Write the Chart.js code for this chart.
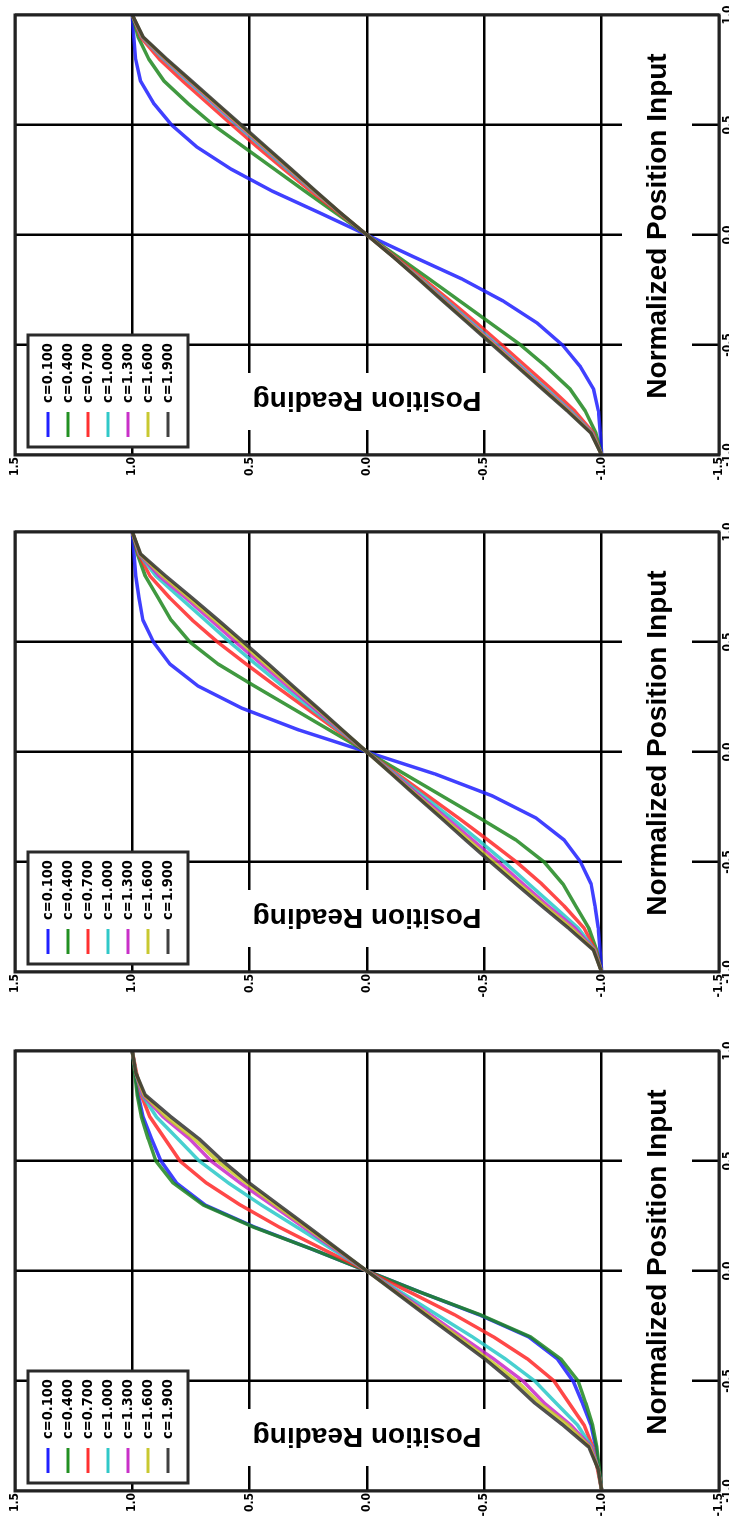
<!DOCTYPE html>
<html>
<head>
<meta charset="utf-8">
<script src="https://cdn.jsdelivr.net/npm/chart.js@4"></script>
<style>
    html, body { margin: 0; padding: 0; background: #fff; width: 729px; height: 1520px; overflow: hidden; }
    .panel { position: absolute; left: 0; top: 0; width: 480px; height: 745px; transform-origin: 0 0; }
</style>
</head>
<body>
<div class="panel" id="panel1"><canvas id="chart1" width="480" height="745"></canvas></div>
<div class="panel" id="panel2"><canvas id="chart2" width="480" height="745"></canvas></div>
<div class="panel" id="panel3"><canvas id="chart3" width="480" height="745"></canvas></div>
<script>
// normalized input, shared by all three plots
const xInput = [-1, -0.9, -0.8, -0.7, -0.6, -0.5, -0.4, -0.3, -0.2, -0.1, 0, 0.1, 0.2, 0.3, 0.4, 0.5, 0.6, 0.7, 0.8, 0.9, 1];

const legendLabels = ["c=0.100", "c=0.400", "c=0.700", "c=1.000", "c=1.300", "c=1.600", "c=1.900"];
const lineColors = ["rgba(30,30,255,0.85)", "rgba(30,135,30,0.85)", "rgba(255,40,40,0.85)", "rgba(40,200,200,0.85)",
                    "rgba(200,40,200,0.85)", "rgba(200,200,40,0.85)", "rgba(50,50,50,0.85)"];
const keyColors = ["#2020ff", "#229022", "#ff3030", "#30c8c8", "#c830c8", "#c8c830", "#404040"];

const xTitle = "Normalized Position Input";
const yTitle = "Position Reading";

// top plot
const p1_c0100 = [-1,-.994,-.986,-.965,-.91,-.833,-.725,-.58,-.405,-.2,0,.2,.405,.58,.725,.833,.91,.965,.986,.994,1];
const p1_c0400 = [-1,-.975,-.93,-.865,-.765,-.655,-.525,-.395,-.265,-.133,0,.133,.265,.395,.525,.655,.765,.865,.93,.975,1];
const p1_c0700 = [-1,-.965,-.885,-.785,-.68,-.575,-.467,-.355,-.24,-.12,0,.12,.24,.355,.467,.575,.68,.785,.885,.965,1];
const p1_c1000 = [-1,-.96,-.868,-.765,-.66,-.555,-.448,-.34,-.228,-.115,0,.115,.228,.34,.448,.555,.66,.765,.868,.96,1];
const p1_c1300 = [-1,-.958,-.862,-.758,-.653,-.548,-.44,-.333,-.224,-.114,0,.114,.224,.333,.44,.548,.653,.758,.862,.958,1];
const p1_c1600 = [-1,-.956,-.858,-.753,-.647,-.542,-.435,-.328,-.222,-.113,0,.113,.222,.328,.435,.542,.647,.753,.858,.956,1];
const p1_c1900 = [-1,-.954,-.854,-.748,-.642,-.536,-.43,-.324,-.219,-.112,0,.112,.219,.324,.43,.536,.642,.748,.854,.954,1];

// middle plot
const p2_c0100 = [-1,-.993,-.985,-.972,-.955,-.91,-.84,-.72,-.535,-.29,0,.29,.535,.72,.84,.91,.955,.972,.985,.993,1];
const p2_c0400 = [-1,-.978,-.945,-.89,-.835,-.755,-.635,-.48,-.32,-.16,0,.16,.32,.48,.635,.755,.835,.89,.945,.978,1];
const p2_c0700 = [-1,-.974,-.925,-.84,-.745,-.637,-.515,-.39,-.26,-.13,0,.13,.26,.39,.515,.637,.745,.84,.925,.974,1];
const p2_c1000 = [-1,-.971,-.9,-.795,-.69,-.585,-.475,-.36,-.24,-.12,0,.12,.24,.36,.475,.585,.69,.795,.9,.971,1];
const p2_c1300 = [-1,-.969,-.885,-.772,-.665,-.56,-.45,-.338,-.226,-.113,0,.113,.226,.338,.45,.56,.665,.772,.885,.969,1];
const p2_c1600 = [-1,-.967,-.87,-.758,-.648,-.54,-.433,-.325,-.216,-.108,0,.108,.216,.325,.433,.54,.648,.758,.87,.967,1];
const p2_c1900 = [-1,-.965,-.858,-.745,-.635,-.527,-.42,-.316,-.21,-.105,0,.105,.21,.316,.42,.527,.635,.745,.858,.965,1];

// bottom plot
const p3_c0100 = [-1,-.988,-.975,-.954,-.918,-.878,-.812,-.69,-.48,-.236,0,.236,.48,.69,.812,.878,.918,.954,.975,.988,1];
const p3_c0400 = [-1,-.99,-.979,-.961,-.932,-.9,-.826,-.698,-.485,-.236,0,.236,.485,.698,.826,.9,.932,.961,.979,.99,1];
const p3_c0700 = [-1,-.982,-.962,-.925,-.861,-.797,-.684,-.54,-.375,-.19,0,.19,.375,.54,.684,.797,.861,.925,.962,.982,1];
const p3_c1000 = [-1,-.985,-.958,-.897,-.805,-.715,-.59,-.45,-.3,-.15,0,.15,.3,.45,.59,.715,.805,.897,.958,.985,1];
const p3_c1300 = [-1,-.985,-.955,-.868,-.755,-.665,-.54,-.405,-.272,-.137,0,.137,.272,.405,.54,.665,.755,.868,.955,.985,1];
const p3_c1600 = [-1,-.985,-.95,-.855,-.735,-.638,-.515,-.39,-.26,-.13,0,.13,.26,.39,.515,.638,.735,.855,.95,.985,1];
const p3_c1900 = [-1,-.985,-.945,-.835,-.715,-.615,-.502,-.376,-.25,-.125,0,.125,.25,.376,.502,.615,.715,.835,.945,.985,1];

const titleFont = "bold 28px 'Liberation Sans', Arial, sans-serif";
const keyFont = "bold 14px 'DejaVu Sans', sans-serif";
const tickFont = { family: "'DejaVu Sans Condensed', 'DejaVu Sans', sans-serif", size: 12, weight: "bold" };

function drawTitles(chart) {
    const ctx = chart.ctx, a = chart.chartArea;
    ctx.save();
    ctx.font = titleFont;
    ctx.textAlign = "center";
    ctx.textBaseline = "middle";

    // x title lives inside the plot, between y=-1 and the frame
    const xw = ctx.measureText(xTitle).width;
    const xc = (a.left + a.right) / 2 + 9;
    ctx.fillStyle = "#fff";
    ctx.fillRect(xc - xw / 2 - 8, a.bottom - 97, xw + 16, 70);
    ctx.fillStyle = "#000";
    ctx.fillText(xTitle, xc, a.bottom - 61);

    // y title, also inside, near x=-1
    const yw = ctx.measureText(yTitle).width;
    const yc = (a.top + a.bottom) / 2;
    ctx.fillStyle = "#fff";
    ctx.fillRect(a.left + 25, yc - yw / 2 - 8, 57, yw + 16);
    ctx.translate(a.left + 55, yc);
    ctx.rotate(-Math.PI / 2);
    ctx.fillStyle = "#000";
    ctx.fillText(yTitle, 0, 0);
    ctx.restore();
}

function drawKey(chart) {
    const ctx = chart.ctx, a = chart.chartArea;
    const bx = a.left + 8, by = a.top + 13;
    ctx.save();
    ctx.fillStyle = "#fff";
    ctx.fillRect(bx, by, 112, 160);
    ctx.lineWidth = 3;
    ctx.strokeStyle = "#2a2a2a";
    ctx.strokeRect(bx, by, 112, 160);
    ctx.font = keyFont;
    ctx.textBaseline = "middle";
    chart.data.datasets.forEach((ds, i) => {
        const ry = by + 20 + 20 * i;
        ctx.strokeStyle = ds.keyColor;
        ctx.lineWidth = 3;
        ctx.beginPath();
        ctx.moveTo(bx + 10, ry);
        ctx.lineTo(bx + 35, ry);
        ctx.stroke();
        // labels are a bit narrow in the original
        ctx.save();
        ctx.translate(bx + 44, ry);
        ctx.scale(0.93, 1);
        ctx.fillStyle = "#000";
        ctx.fillText(ds.label, 0, 0);
        ctx.restore();
    });
    ctx.restore();
}

function drawFrame(chart) {
    const ctx = chart.ctx, a = chart.chartArea;
    ctx.save();
    ctx.lineWidth = 3;
    ctx.strokeStyle = "#222";
    ctx.strokeRect(a.left, a.top, a.right - a.left, a.bottom - a.top);
    ctx.restore();
}

const decor = {
    id: "decor",
    beforeDatasetsDraw(chart) { drawTitles(chart); },
    afterDatasetsDraw(chart) { drawFrame(chart); drawKey(chart); }
};

function makePanel(divId, canvasId, frameTop, series) {
    const div = document.getElementById(divId);
    div.style.transform = `translate(0px, ${frameTop - 15 + 480}px) rotate(-90deg)`;

    const datasets = series.map((vals, i) => ({
        label: legendLabels[i],
        data: xInput.map((x, j) => ({ x: x, y: vals[j] })),
        borderColor: lineColors[i],
        keyColor: keyColors[i],
        borderWidth: 3.5,
        pointRadius: 0,
        tension: 0,
        fill: false,
        borderJoinStyle: "round",
        order: series.length - i
    }));

    new Chart(document.getElementById(canvasId), {
        type: "line",
        data: { datasets },
        options: {
            responsive: false,
            animation: false,
            devicePixelRatio: 1,
            events: [],
            layout: { padding: { top: 15, right: 15, left: 0, bottom: 0 } },
            plugins: { legend: { display: false }, tooltip: { enabled: false } },
            scales: {
                x: {
                    type: "linear",
                    min: -1, max: 1,
                    afterFit: s => { s.height = 26; },
                    ticks: { stepSize: 0.5, padding: 2, color: "#000", font: tickFont, maxRotation: 0,
                             callback: v => v.toFixed(1) },
                    grid: { color: "#000", lineWidth: 2.5, drawTicks: false },
                    border: { display: false }
                },
                y: {
                    type: "linear",
                    min: -1.5, max: 1.5,
                    afterFit: s => { s.width = 25; },
                    ticks: { stepSize: 0.5, padding: 2, color: "#000", font: tickFont,
                             callback: v => v.toFixed(1) },
                    grid: { color: "#000", lineWidth: 2.5, drawTicks: false },
                    border: { display: false }
                }
            }
        },
        plugins: [decor]
    });
}

makePanel("panel1", "chart1", 15, [p1_c0100, p1_c0400, p1_c0700, p1_c1000, p1_c1300, p1_c1600, p1_c1900]);
makePanel("panel2", "chart2", 532, [p2_c0100, p2_c0400, p2_c0700, p2_c1000, p2_c1300, p2_c1600, p2_c1900]);
makePanel("panel3", "chart3", 1051, [p3_c0100, p3_c0400, p3_c0700, p3_c1000, p3_c1300, p3_c1600, p3_c1900]);
</script>
</body>
</html>
